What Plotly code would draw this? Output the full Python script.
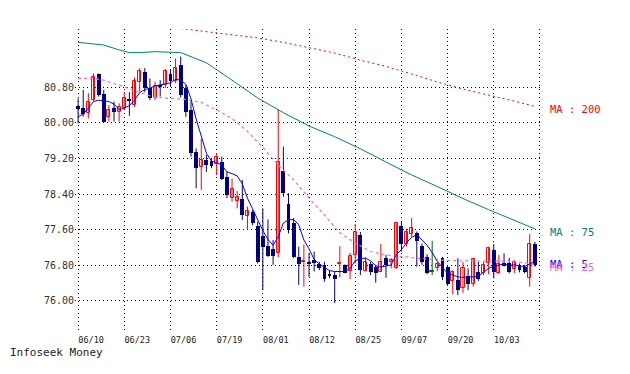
import plotly.graph_objects as go

# ---- data ----
tick_dates = ["06/10", "06/23", "07/06", "07/19", "08/01", "08/12", "08/25", "09/07", "09/20", "10/03"]
price_ticks = [76.00, 76.80, 77.60, 78.40, 79.20, 80.00, 80.80]

opens = [
    80.39, 80.34, 80.22, 80.51, 81.09, 80.64, 80.14, 80.33, 80.25, 80.33,
    80.54, 80.40, 80.91, 81.15, 80.79, 80.57, 80.85, 80.85, 81.09, 80.94,
    81.29, 80.78, 80.29, 79.35, 79.02, 79.17, 79.14, 79.07, 79.13, 78.79,
    78.31, 78.25, 78.30, 77.91, 78.00, 77.68, 77.46, 77.23, 77.16, 77.07,
    78.92, 78.17, 77.74, 76.99, 76.87, 76.86, 76.92, 76.82, 76.81, 76.60,
    76.58, 76.83, 76.81, 76.68, 77.03, 77.48, 76.68, 76.84, 76.77, 76.66,
    76.96, 76.87, 76.73, 77.69, 77.27, 77.50, 77.52, 77.24, 76.99, 76.66,
    76.73, 76.97, 76.77, 76.45, 76.47, 76.29, 76.56, 76.37, 76.64, 76.62,
    76.85, 77.14, 76.62, 76.86, 76.85, 76.72, 76.81, 76.77, 76.51, 77.27]
highs = [
    80.55, 80.74, 80.67, 81.11, 81.11, 80.74, 80.40, 80.48, 80.44, 80.70,
    80.69, 81.02, 81.23, 81.23, 81.00, 80.93, 80.96, 81.21, 81.19, 81.45,
    81.49, 80.85, 80.48, 79.43, 79.65, 79.28, 79.20, 79.32, 79.24, 78.90,
    78.75, 78.47, 78.72, 78.12, 78.04, 77.78, 78.08, 77.83, 77.37, 80.31,
    79.47, 78.42, 77.86, 77.22, 77.27, 77.07, 77.11, 76.88, 76.88, 76.69,
    76.66, 77.23, 76.82, 77.08, 77.73, 77.55, 76.98, 76.88, 76.81, 77.28,
    77.03, 76.96, 77.76, 77.78, 77.62, 77.86, 77.56, 77.29, 77.05, 77.35,
    76.87, 76.99, 76.81, 76.69, 76.96, 76.87, 76.73, 76.97, 76.88, 76.88,
    77.22, 77.27, 77.03, 77.07, 76.97, 76.92, 76.84, 76.81, 77.50, 77.33]
lows = [
    79.99, 80.14, 80.10, 80.48, 80.59, 80.02, 80.03, 80.03, 80.03, 80.29,
    80.16, 80.36, 80.70, 80.69, 80.51, 80.51, 80.59, 80.78, 80.81, 80.89,
    80.57, 80.14, 79.24, 78.53, 78.49, 78.90, 78.98, 78.83, 78.72, 78.31,
    78.23, 78.08, 77.82, 77.59, 77.70, 76.84, 76.24, 76.99, 76.81, 76.98,
    78.34, 77.52, 76.96, 76.36, 76.32, 76.54, 76.66, 76.69, 76.43, 76.51,
    75.95, 76.53, 76.62, 76.49, 76.84, 76.58, 76.66, 76.58, 76.41, 76.65,
    76.52, 76.73, 76.72, 77.11, 77.22, 77.44, 76.77, 76.81, 76.60, 76.58,
    76.67, 76.47, 76.34, 76.15, 76.13, 76.18, 76.24, 76.32, 76.45, 76.58,
    76.60, 76.51, 76.60, 76.77, 76.62, 76.62, 76.64, 76.62, 76.32, 76.77]
closes = [
    80.31, 80.19, 80.48, 81.04, 80.63, 80.03, 80.29, 80.24, 80.36, 80.55,
    80.49, 80.94, 81.17, 80.78, 80.55, 80.84, 80.81, 81.17, 80.94, 81.24,
    80.63, 80.25, 79.32, 78.98, 79.17, 79.05, 79.04, 79.24, 78.74, 78.38,
    78.51, 78.33, 77.93, 78.02, 77.76, 76.88, 77.22, 77.01, 77.01, 79.13,
    78.42, 77.59, 76.99, 76.82, 76.90, 76.83, 76.86, 76.75, 76.49, 76.56,
    76.49, 76.86, 76.63, 77.01, 77.55, 76.69, 76.88, 76.66, 76.62, 76.88,
    76.81, 76.92, 77.74, 77.27, 77.54, 77.63, 77.35, 76.88, 76.62, 76.66,
    76.82, 76.54, 76.37, 76.66, 76.24, 76.73, 76.37, 76.94, 76.50, 76.81,
    77.18, 76.64, 76.82, 76.79, 76.64, 76.88, 76.70, 76.64, 77.27, 76.80]

ma5 = [
    80.14, 80.20, 80.33, 80.48, 80.51, 80.50, 80.48, 80.42, 80.30, 80.33,
    80.39, 80.51, 80.68, 80.75, 80.78, 80.83, 80.85, 80.87, 80.90, 80.98,
    80.96, 80.87, 80.54, 80.09, 79.71, 79.32, 79.14, 79.11, 79.05, 78.90,
    78.86, 78.81, 78.63, 78.31, 78.07, 77.83, 77.58, 77.38, 77.25, 77.44,
    77.75, 77.82, 77.83, 77.71, 77.37, 77.17, 76.93, 76.83, 76.76, 76.68,
    76.66, 76.66, 76.66, 76.73, 76.90, 76.95, 76.96, 76.90, 76.79, 76.76,
    76.79, 76.81, 77.04, 77.15, 77.31, 77.43, 77.49, 77.38, 77.25, 77.09,
    76.89, 76.75, 76.62, 76.58, 76.54, 76.53, 76.53, 76.54, 76.56, 76.64,
    76.73, 76.78, 76.81, 76.83, 76.80, 76.81, 76.79, 76.77, 76.83, 76.89]

ma25_idx = [0, 3, 5, 7, 9, 11, 13, 15, 18, 21, 24, 27, 30, 33, 36, 39, 42, 45,
            48, 51, 54, 57, 60, 65, 70, 75, 80, 85, 89]
ma25 = [81.00, 81.00, 80.96, 80.89, 80.81, 80.72, 80.65, 80.57, 80.55, 80.53,
        80.46, 80.29, 80.10, 79.81, 79.45, 79.05, 78.72, 78.31, 77.93, 77.53,
        77.30, 77.11, 77.03, 76.98, 76.92, 76.90, 76.90, 76.89, 76.82]

ma75_idx = [0, 5, 8, 10, 12, 15, 20, 25, 30, 35, 40, 45, 50, 55, 60, 65, 70, 75, 80, 85, 89]
ma75 = [81.81, 81.75, 81.64, 81.58, 81.58, 81.60, 81.58, 81.35, 80.96, 80.56,
        80.23, 79.93, 79.69, 79.42, 79.12, 78.83, 78.57, 78.30, 78.05, 77.81, 77.62]

ma200_idx = [20, 25, 30, 35, 40, 45, 50, 55, 60, 65, 70, 75, 80, 85, 89]
ma200 = [82.12, 82.05, 81.99, 81.91, 81.81, 81.69, 81.57, 81.41, 81.27, 81.10,
         80.92, 80.76, 80.63, 80.49, 80.37]

# ---- styles ----
RED = "#FF0000"
NAVY = "#000080"
GREEN = "#006600"
BLUE = "#0000FF"
PINK = "#FF66CC"
TEAL = "#008080"
MONO = "DejaVu Sans Mono"

idx = list(range(len(opens)))
up = [i for i in idx if closes[i] > opens[i]]
dn = [i for i in idx if closes[i] < opens[i]]
eq = [i for i in idx if closes[i] == opens[i]]


def wick_xy(sel):
    xs, ys = [], []
    for i in sel:
        xs += [i, i, None]
        ys += [lows[i], highs[i], None]
    return xs, ys


fig = go.Figure()

for sel, col in ((up, RED), (dn, NAVY), (eq, GREEN)):
    wx, wy = wick_xy(sel)
    fig.add_trace(go.Scatter(x=wx, y=wy, mode="lines", line=dict(color=col, width=1),
                             hoverinfo="skip"))

fig.add_trace(go.Bar(x=up, y=[closes[i] - opens[i] for i in up], base=[opens[i] for i in up],
                     width=0.6, marker=dict(color="white", line=dict(color=RED, width=1))))
fig.add_trace(go.Bar(x=dn, y=[opens[i] - closes[i] for i in dn], base=[closes[i] for i in dn],
                     width=0.75, marker=dict(color=NAVY, line=dict(width=0))))
fig.add_trace(go.Bar(x=eq, y=[0.004 for i in eq], base=[opens[i] for i in eq],
                     width=0.7, marker=dict(color=GREEN, line=dict(color=GREEN, width=1))))

fig.add_trace(go.Scatter(x=ma200_idx, y=ma200, mode="lines",
                         line=dict(color=RED, width=1, dash="2px,3px")))
fig.add_trace(go.Scatter(x=ma75_idx, y=ma75, mode="lines", line=dict(color=TEAL, width=1)))
fig.add_trace(go.Scatter(x=ma25_idx, y=ma25, mode="lines",
                         line=dict(color=PINK, width=1.2, dash="3px,3px")))
fig.add_trace(go.Scatter(x=idx, y=ma5, mode="lines", line=dict(color=BLUE, width=1)))

labels = [("MA : 200", ma200[-1], RED), ("MA : 75", ma75[-1], TEAL),
          ("MA : 5", ma5[-1], BLUE), ("MA : 25", ma25[-1], PINK)]
for txt, yv, col in labels:
    fig.add_annotation(x=idx[-1], y=yv, text=txt, showarrow=False, xanchor="left",
                       yanchor="middle", xshift=13, yshift=-3,
                       font=dict(family=MONO, size=10.5, color=col))

fig.add_annotation(xref="paper", yref="paper", x=-67 / 466, y=-19 / 304, text="Infoseek Money",
                   showarrow=False, xanchor="left", yanchor="middle",
                   font=dict(family=MONO, size=11, color="#222222"))

grid = dict(showgrid=True, gridcolor="#000000", gridwidth=1, griddash="1px,3px",
            zeroline=False, showline=False, ticks="")

# the page body has an 8px margin, so the figure is 16px smaller and offsets are reduced by 8
fig.update_layout(
    width=614, height=358,
    margin=dict(l=67, r=81, t=21, b=33),
    paper_bgcolor="white", plot_bgcolor="white",
    showlegend=False, barmode="overlay", bargap=0,
    xaxis=dict(range=[-0.6, 90.2], tickvals=list(range(0, 91, 9)),
               ticktext=tick_dates + [""], ticklabelshift=13,
               tickfont=dict(family=MONO, size=8.5, color="#222222"), **grid),
    yaxis=dict(range=[75.279, 82.11], tickvals=price_ticks,
               ticktext=["%.2f" % v for v in price_ticks],
               tickfont=dict(family=MONO, size=10, color="#333333"), **grid),
)

fig.write_html("out.html")
